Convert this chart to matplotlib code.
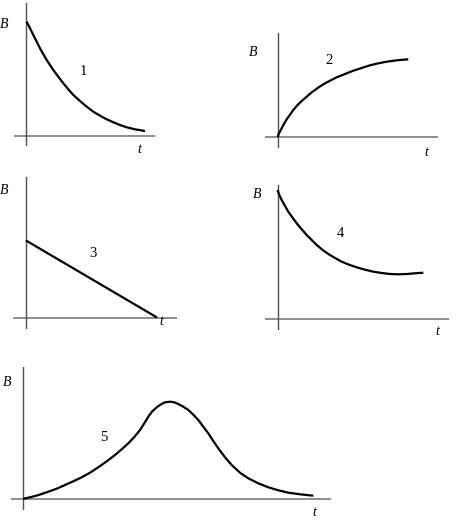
import matplotlib
matplotlib.use('Agg')
from matplotlib import pyplot as plt

W, H = 457, 521

# curve samples (t, B in arbitrary units)
t1 = [0.07, 0.4, 0.73, 1.07, 1.4, 1.73, 2.07, 2.4, 2.73, 3.23, 3.73, 4.23,
      4.73, 5.4, 6.07, 6.73, 7.4, 8.07, 8.73, 9.4, 10.07, 10.9, 11.9]
b1 = [11.38, 10.72, 10.05, 9.38, 8.72, 8.12, 7.55, 7.05, 6.55, 5.88, 5.22, 4.62,
      4.05, 3.45, 2.88, 2.38, 1.98, 1.62, 1.32, 1.05, 0.82, 0.62, 0.45]

t2 = [0.0, 0.18, 0.42, 0.65, 0.92, 1.25, 1.58, 1.98, 2.42, 2.92, 3.42, 3.98,
      4.58, 5.25, 5.92, 6.75, 7.58, 8.42, 9.25, 10.08, 10.92, 11.92, 13.08]
b2 = [0.0, 0.43, 0.87, 1.33, 1.77, 2.23, 2.7, 3.17, 3.6, 4.03, 4.47, 4.87,
      5.27, 5.63, 5.97, 6.3, 6.63, 6.9, 7.17, 7.37, 7.53, 7.67, 7.77]

t3 = [0.0, 13.1]
b3 = [7.7, 0.0]

t4 = [0.0, 0.18, 0.42, 0.75, 1.08, 1.48, 1.92, 2.42, 2.92, 3.42, 3.92, 4.48, 5.08,
      5.75, 6.42, 7.15, 7.92, 8.75, 9.58, 10.42, 11.25, 12.08, 12.92, 13.75, 14.58]
b4 = [12.85, 12.35, 11.85, 11.25, 10.68, 10.12, 9.52, 8.92, 8.35, 7.85, 7.35, 6.88, 6.45,
      6.05, 5.68, 5.38, 5.12, 4.88, 4.68, 4.55, 4.45, 4.42, 4.45, 4.52, 4.58]

t5 = [0.0, 0.67, 1.17, 1.84, 2.5, 3.34, 4.17, 5.0, 5.84, 6.67, 7.5, 8.34, 9.17,
      9.84, 10.5, 11.1, 11.67, 12.1, 12.5, 12.9, 13.34, 13.77, 14.17, 14.67,
      15.1, 15.5, 16.0, 16.5, 17.0, 17.5, 18.0, 18.5, 19.0, 19.5, 20.17, 20.84,
      21.67, 22.5, 23.5, 24.5, 25.5, 26.5, 27.67, 29.0]
b5 = [0.03, 0.17, 0.3, 0.5, 0.73, 1.03, 1.4, 1.77, 2.17, 2.63, 3.17, 3.77, 4.4,
      4.97, 5.57, 6.2, 6.9, 7.57, 8.23, 8.77, 9.17, 9.47, 9.67, 9.73,
      9.67, 9.5, 9.23, 8.9, 8.43, 7.9, 7.23, 6.57, 5.8, 5.07, 4.17, 3.4,
      2.63, 2.07, 1.57, 1.17, 0.87, 0.63, 0.47, 0.33]

curve_labels = ['1', '2', '3', '4', '5']

# layout in pixels: axis extents (x0, x1, y0, y1), origin, and label spots
panels = [
    dict(box=(14, 155, 3, 146), origin=(26, 135.5), data=(t1, b1),
         B=(4, 25), num=(83.3, 71.7), t=(139.3, 149.3)),
    dict(box=(265, 438, 33, 148), origin=(277.5, 137), data=(t2, b2),
         B=(253.3, 52.3), num=(329, 60), t=(426, 152.3)),
    dict(box=(13, 177, 177, 329), origin=(26, 317.5), data=(t3, b3),
         B=(4, 191), num=(93.3, 253.3), t=(161.7, 321.7)),
    dict(box=(265, 449, 185, 329.5), origin=(277.5, 318.5), data=(t4, b4),
         B=(256.7, 194.3), num=(340, 233.3), t=(437.3, 331.7)),
    dict(box=(11, 331, 367, 510), origin=(23.3, 499), data=(t5, b5),
         B=(6.7, 382.7), num=(104, 437.3), t=(314, 512.3)),
]

SCALE = 10.0  # pixels per data unit
font = ['Liberation Serif', 'DejaVu Serif']

fig = plt.figure(figsize=(W / 100, H / 100), dpi=100)

for p, lab in zip(panels, curve_labels):
    x0, x1, y0, y1 = p['box']
    ox, oy = p['origin']
    ax = fig.add_axes((x0 / W, 1 - y1 / H, (x1 - x0) / W, (y1 - y0) / H))
    ax.set_xlim((x0 - ox) / SCALE, (x1 - ox) / SCALE)
    ax.set_ylim((oy - y1) / SCALE, (oy - y0) / SCALE)
    ax.axis('off')
    ax.axhline(0, color='#707070', lw=1.1)
    ax.axvline(0, color='#505050', lw=1.0)

    t, b = p['data']
    ax.plot(t, b, color='black', lw=1.6, solid_capstyle='butt',
            solid_joinstyle='round')

    def to_data(pt):
        return (pt[0] - ox) / SCALE, (oy - pt[1]) / SCALE

    bx, by = to_data(p['B'])
    ax.text(bx, by, 'B', fontsize=10, style='italic', family=font,
            ha='center', va='center', clip_on=False)
    nx, ny = to_data(p['num'])
    ax.text(nx, ny, lab, fontsize=10.5, family=font,
            ha='center', va='center', clip_on=False)
    tx, ty = to_data(p['t'])
    ax.text(tx, ty, 't', fontsize=10, style='italic', family=font,
            ha='center', va='center', clip_on=False)

fig.savefig('out.png', dpi=100)
